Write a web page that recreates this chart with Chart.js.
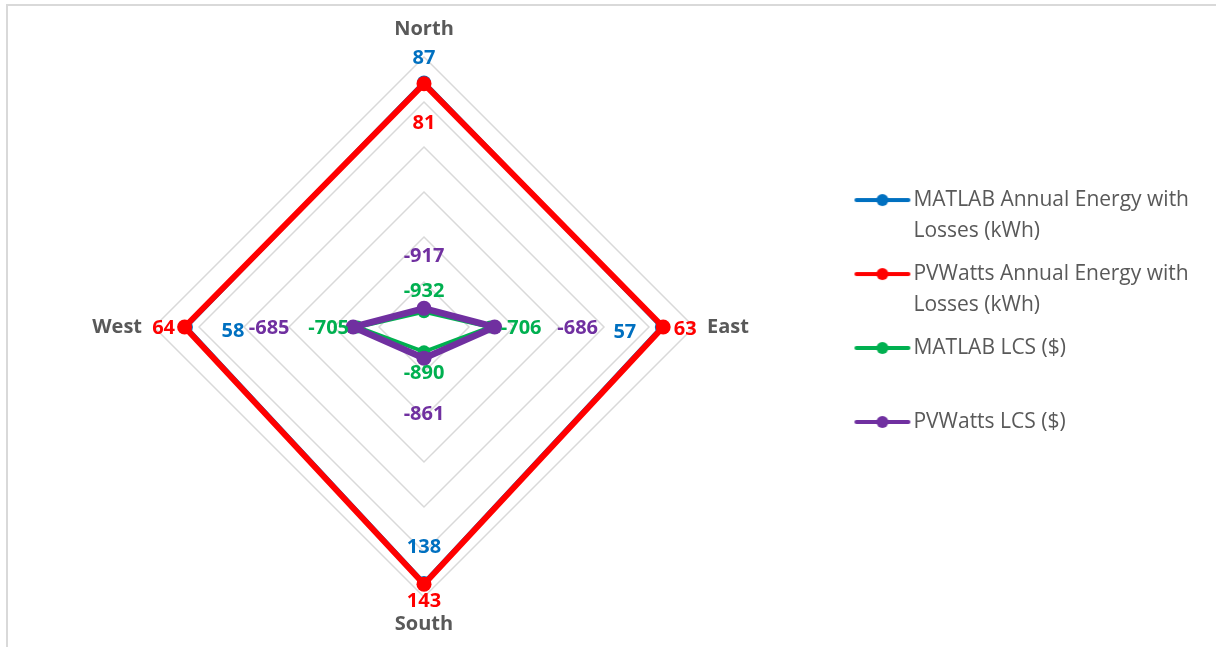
<!DOCTYPE html>
<html>
<head>
<meta charset="utf-8">
<script src="https://cdn.jsdelivr.net/npm/chart.js@4.4.1/dist/chart.umd.min.js"></script>
<style>
  html, body { margin: 0; padding: 0; background: #fff; overflow: hidden; }
  #frame { position: absolute; left: 6px; top: 4px; width: 1300px; height: 700px;
           border-left: 2px solid #d9d9d9; border-top: 2px solid #d9d9d9; }
  #chart { position: absolute; left: 0; top: 0; }
</style>
</head>
<body>
<div id="frame"></div>
<canvas id="chart" width="1216" height="647"></canvas>
<script>
const categories = ['North', 'East', 'South', 'West'];
const seriesNames = [
    'MATLAB Annual Energy with Losses (kWh)',
    'PVWatts Annual Energy with Losses (kWh)',
    'MATLAB LCS ($)',
    'PVWatts LCS ($)'
];
const matlabEnergy = [87, 57, 138, 58];
const pvwattsEnergy = [81, 63, 143, 64];
const matlabLcs = [-932, -706, -890, -705];
const pvwattsLcs = [-917, -686, -861, -685];
const axisMin = -1000;
const axisMax = 200;
const axisStep = 200;

// legend text broken the way excel wraps it
const legendLines = [
    ['MATLAB Annual Energy with', 'Losses (kWh)'],
    ['PVWatts Annual Energy with', 'Losses (kWh)'],
    ['MATLAB LCS ($)', ''],
    ['PVWatts LCS ($)', '']
];

const colors = ['#0070C0', '#FF0000', '#00B050', '#7030A0'];
const lineWidths = [4.5, 6, 4, 6.5];
const pointRadii = [7, 7.5, 6.5, 7.5];
// where each data label sits relative to its point [dx, dy]
const labelOffsets = [
    [[0, -25], [-37, 4], [0, -37], [47, 3]],
    [[0, 38], [22, 1], [0, 16], [-21, 0]],
    [[0, -22], [31, 0], [0, 20], [-29, 0]],
    [[0, -53], [83, 0], [0, 55], [-84, 0]]
];
const pointLabelPads = [16, 13, 15, 12];

Chart.defaults.font.family = "'Open Sans', sans-serif";

function markerFor(color) {
    var c = document.createElement('canvas');
    c.width = 58;
    c.height = 14;
    var g = c.getContext('2d');
    g.strokeStyle = color;
    g.lineWidth = 4;
    g.lineCap = 'round';
    g.beginPath();
    g.moveTo(3, 7);
    g.lineTo(55, 7);
    g.stroke();
    g.fillStyle = color;
    g.beginPath();
    g.arc(29, 7, 6, 0, Math.PI * 2);
    g.fill();
    return c;
}
const markers = colors.map(markerFor);

const valueLabels = {
    id: 'valueLabels',
    afterDatasetsDraw(chart) {
        var ctx = chart.ctx;
        ctx.save();
        ctx.font = "bold 20px 'Open Sans'";
        ctx.textAlign = 'center';
        ctx.textBaseline = 'alphabetic';
        chart.data.datasets.forEach(function(ds, di) {
            var meta = chart.getDatasetMeta(di);
            meta.data.forEach(function(pt, i) {
                var off = labelOffsets[di][i];
                ctx.fillStyle = colors[di];
                ctx.fillText(String(ds.data[i]), pt.x + off[0], pt.y + off[1] + 7);
            });
        });
        ctx.restore();
    }
};

const allSeries = [matlabEnergy, pvwattsEnergy, matlabLcs, pvwattsLcs];
const datasets = allSeries.map(function(values, i) {
    return {
        label: seriesNames[i],
        data: values,
        borderColor: colors[i],
        backgroundColor: colors[i],
        pointBackgroundColor: colors[i],
        borderWidth: lineWidths[i],
        pointRadius: pointRadii[i],
        pointBorderWidth: 0,
        fill: false,
        order: allSeries.length - i
    };
});

new Chart(document.getElementById('chart').getContext('2d'), {
    type: 'radar',
    data: {labels: categories, datasets: datasets},
    options: {
        responsive: false,
        animation: false,
        devicePixelRatio: 1,
        layout: {padding: {top: 17, bottom: 10, left: 0, right: 17}},
        elements: {line: {tension: 0, borderJoinStyle: 'round'}},
        scales: {
            r: {
                min: axisMin,
                max: axisMax,
                ticks: {display: false, stepSize: axisStep},
                angleLines: {display: false},
                grid: {color: '#d9d9d9', lineWidth: 1.5},
                pointLabels: {
                    color: '#595959',
                    font: {size: 20, weight: 'bold'},
                    padding: function(ctx) { return pointLabelPads[ctx.index]; }
                }
            }
        },
        plugins: {
            tooltip: {enabled: false},
            legend: {
                position: 'right',
                align: 'center',
                title: {display: true, text: '', font: {size: 9, lineHeight: 1}, padding: 0},
                labels: {
                    usePointStyle: true,
                    pointStyleWidth: 41,
                    padding: 12,
                    color: '#595959',
                    font: {size: 21, lineHeight: 1.476},
                    generateLabels: function(chart) {
                        return chart.data.datasets.map(function(ds, i) {
                            return {
                                text: legendLines[i],
                                fillStyle: colors[i],
                                strokeStyle: colors[i],
                                lineWidth: 0,
                                pointStyle: markers[i],
                                hidden: false,
                                datasetIndex: i,
                                fontColor: '#595959'
                            };
                        });
                    }
                }
            }
        }
    },
    plugins: [valueLabels]
});
</script>
</body>
</html>
